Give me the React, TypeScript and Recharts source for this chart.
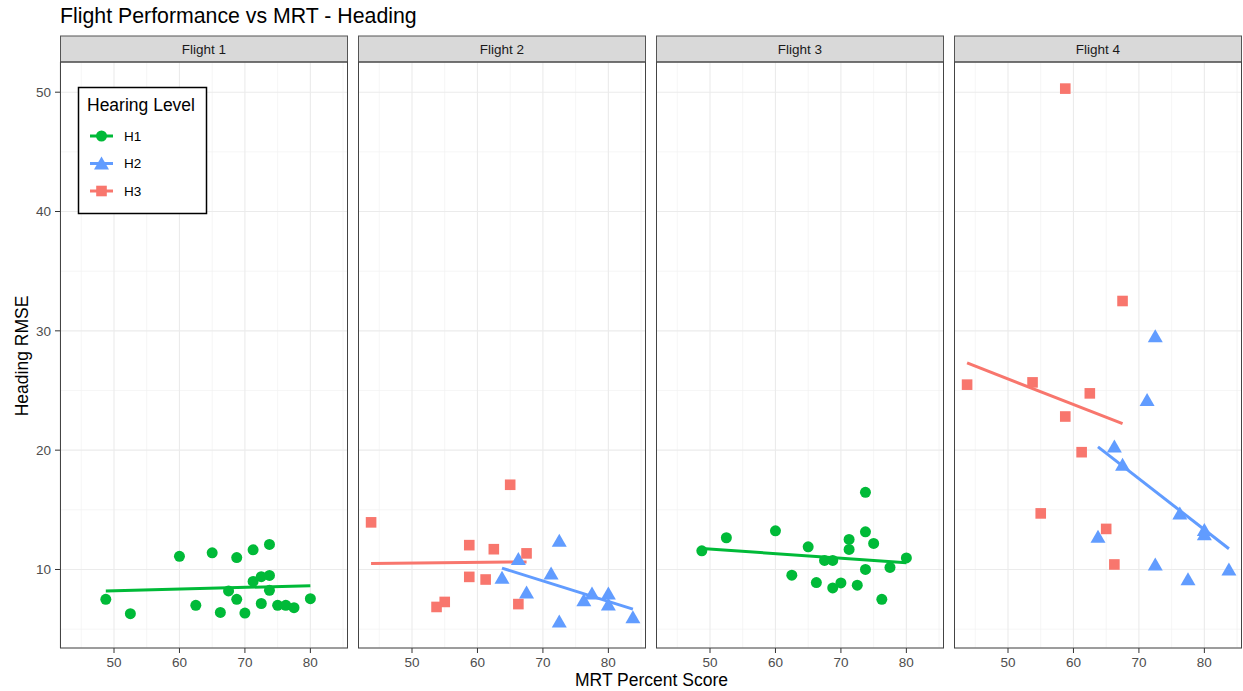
import React from "react";
import { ScatterChart, Scatter, XAxis, YAxis, CartesianGrid, ReferenceLine } from "recharts";

const H1_MRT_F1 = [48.75, 52.5, 60, 62.5, 65, 66.25, 67.5, 68.75, 68.75, 70, 71.25, 71.25, 72.5, 72.5, 73.75, 73.75, 73.75, 75, 76.25, 77.5, 80];
const H1_RMSE_F1 = [7.5, 6.3, 11.1, 7.0, 11.4, 6.4, 8.2, 11.0, 7.5, 6.35, 11.65, 9.0, 9.4, 7.15, 12.1, 9.5, 8.25, 7.0, 7.0, 6.8, 7.55];

const H2_MRT = [63.75, 66.25, 67.5, 71.25, 72.5, 72.5, 76.25, 77.5, 80, 80, 83.75];
const H2_RMSE_F2 = [9.3, 10.87, 8.07, 9.66, 12.4, 5.65, 7.42, 7.98, 7.98, 7.06, 6.0];
const H2_RMSE_F4 = [12.74, 20.3, 18.77, 24.2, 29.55, 10.42, 14.7, 9.18, 13.3, 12.96, 10.0];

const H3_MRT = [43.75, 53.75, 55, 58.75, 58.75, 61.25, 62.5, 65, 66.25, 67.5];
const H3_RMSE_F2 = [13.95, 6.86, 7.28, 12.04, 9.38, 9.16, 11.7, 17.1, 7.1, 11.35];
const H3_RMSE_F4 = [25.49, 25.68, 14.7, 22.82, 50.3, 19.83, 24.76, 13.4, 10.42, 32.5];

const H1_MRT_F3 = [48.75, 52.5, 60, 62.5, 65, 66.25, 67.5, 68.75, 68.75, 70, 71.25, 71.25, 72.5, 73.75, 73.75, 73.75, 75, 76.25, 77.5, 80];
const H1_RMSE_F3 = [11.56, 12.66, 13.24, 9.52, 11.9, 8.9, 10.76, 10.76, 8.45, 8.87, 12.52, 11.68, 8.68, 16.47, 13.16, 10.0, 12.18, 7.5, 10.17, 10.97];

const FLIGHTS = ["Flight 1", "Flight 2", "Flight 3", "Flight 4"];
const GROUPS = ["H1", "H2", "H3"];
const X_TICKS = [50, 60, 70, 80];
const Y_TICKS = [10, 20, 30, 40, 50];
const X_MINOR = [45, 55, 65, 75, 85];
const Y_MINOR = [5, 15, 25, 35, 45];

const COLORS: any = { H1: "#00BA38", H2: "#619CFF", H3: "#F8766D" };
const FONT = "'Liberation Sans', Arial, sans-serif";

const panels = [
  [{ group: "H1", mrt: H1_MRT_F1, rmse: H1_RMSE_F1 }],
  [{ group: "H2", mrt: H2_MRT, rmse: H2_RMSE_F2 }, { group: "H3", mrt: H3_MRT, rmse: H3_RMSE_F2 }],
  [{ group: "H1", mrt: H1_MRT_F3, rmse: H1_RMSE_F3 }],
  [{ group: "H2", mrt: H2_MRT, rmse: H2_RMSE_F4 }, { group: "H3", mrt: H3_MRT, rmse: H3_RMSE_F4 }],
];

const PANEL_LEFT = [60, 358, 656, 954];
const PANEL_W = 288;
const PANEL_TOP = 62;
const PANEL_H = 586;

// lm fit, like geom_smooth(method = "lm")
function fit(xs: number[], ys: number[]) {
  const n = xs.length;
  const mx = xs.reduce((a, b) => a + b, 0) / n;
  const my = ys.reduce((a, b) => a + b, 0) / n;
  let sxy = 0, sxx = 0;
  xs.forEach((x, i) => { sxy += (x - mx) * (ys[i] - my); sxx += (x - mx) * (x - mx); });
  const b = sxy / sxx;
  const lo = Math.min(...xs), hi = Math.max(...xs);
  return [{ x: lo, y: my + b * (lo - mx) }, { x: hi, y: my + b * (hi - mx) }];
}

const Marker = (group: string) => (p: any) => {
  const c = COLORS[group];
  if (group === "H1") return <circle cx={p.cx} cy={p.cy} r={5.5} fill={c} />;
  if (group === "H2") return <polygon points={`${p.cx},${p.cy - 7} ${p.cx - 7.5},${p.cy + 6} ${p.cx + 7.5},${p.cy + 6}`} fill={c} />;
  return <rect x={p.cx - 5.3} y={p.cy - 5.3} width={10.6} height={10.6} fill={c} />;
};

const tickStyle = { fill: "#4d4d4d", fontSize: 13.5, fontFamily: FONT };

function Panel({ idx }: { idx: number }) {
  const showY = idx === 0;
  const yw = showY ? 60 : 0;
  return (
    <div style={{ position: "absolute", left: PANEL_LEFT[idx] - yw, top: PANEL_TOP }}>
      <ScatterChart width={PANEL_W + yw} height={PANEL_H + 30} margin={{ top: 0, right: 0, bottom: 0, left: 0 }}>
        <CartesianGrid stroke="#f0f0f0" strokeWidth={0.7} verticalValues={X_MINOR} horizontalValues={Y_MINOR} />
        <CartesianGrid stroke="#ebebeb" strokeWidth={1.1} />
        <XAxis type="number" dataKey="x" domain={[41.75, 85.75]} ticks={X_TICKS} allowDataOverflow height={30}
          tickSize={5} tickMargin={4} axisLine={false} tickLine={{ stroke: "#333" }} tick={tickStyle} />
        <YAxis type="number" dataKey="y" domain={[3.42, 52.53]} ticks={Y_TICKS} allowDataOverflow width={yw} hide={!showY}
          tickSize={5} tickMargin={4} axisLine={false} tickLine={{ stroke: "#333" }} tick={tickStyle} />
        {panels[idx].map((s) => (
          <Scatter key={s.group} data={s.mrt.map((x, i) => ({ x, y: s.rmse[i] }))} shape={Marker(s.group)}
            isAnimationActive={false} />
        ))}
        {panels[idx].map((s) => (
          <ReferenceLine key={"l" + s.group} segment={fit(s.mrt, s.rmse)} stroke={COLORS[s.group]} strokeWidth={3} />
        ))}
      </ScatterChart>
    </div>
  );
}

export default function App() {
  return (
    <div style={{ position: "absolute", left: 0, top: 0, width: 1243, height: 691, background: "#fff", fontFamily: FONT }}>
      {FLIGHTS.map((f, i) => <Panel key={f} idx={i} />)}
      <svg width={1243} height={691} style={{ position: "absolute", left: 0, top: 0, pointerEvents: "none" }}>
        <text x={60} y={22.5} fontSize={21.3} fill="#000" fontFamily={FONT}>Flight Performance vs MRT - Heading</text>
        {FLIGHTS.map((f, i) => (
          <g key={f}>
            <rect x={PANEL_LEFT[i] + 0.5} y={36} width={PANEL_W - 1} height={26} fill="#d9d9d9" stroke="#555" strokeWidth={1} />
            <text x={PANEL_LEFT[i] + PANEL_W / 2} y={53.8} textAnchor="middle" fontSize={13.5} fill="#1a1a1a" fontFamily={FONT}>{f}</text>
            <rect x={PANEL_LEFT[i] + 0.5} y={PANEL_TOP} width={PANEL_W - 1} height={PANEL_H} fill="none" stroke="#444" strokeWidth={1} />
          </g>
        ))}
        <text x={651.5} y={685.5} textAnchor="middle" fontSize={17.5} fill="#000" fontFamily={FONT}>MRT Percent Score</text>
        <text transform="translate(28,356) rotate(-90)" textAnchor="middle" fontSize={17.5} fill="#000" fontFamily={FONT}>Heading RMSE</text>
        <g>
          <rect x={78.5} y={87.5} width={128} height={126} fill="#fff" stroke="#000" strokeWidth={1.5} />
          <text x={87} y={111} fontSize={17.5} fill="#000" fontFamily={FONT}>Hearing Level</text>
          {GROUPS.map((g, i) => {
            const cy = 136 + i * 27.5;
            return (
              <g key={g}>
                <line x1={90} x2={113} y1={cy} y2={cy} stroke={COLORS[g]} strokeWidth={3} />
                {Marker(g)({ cx: 101.5, cy })}
                <text x={124} y={cy + 4.8} fontSize={13.5} fill="#000" fontFamily={FONT}>{g}</text>
              </g>
            );
          })}
        </g>
      </svg>
    </div>
  );
}
